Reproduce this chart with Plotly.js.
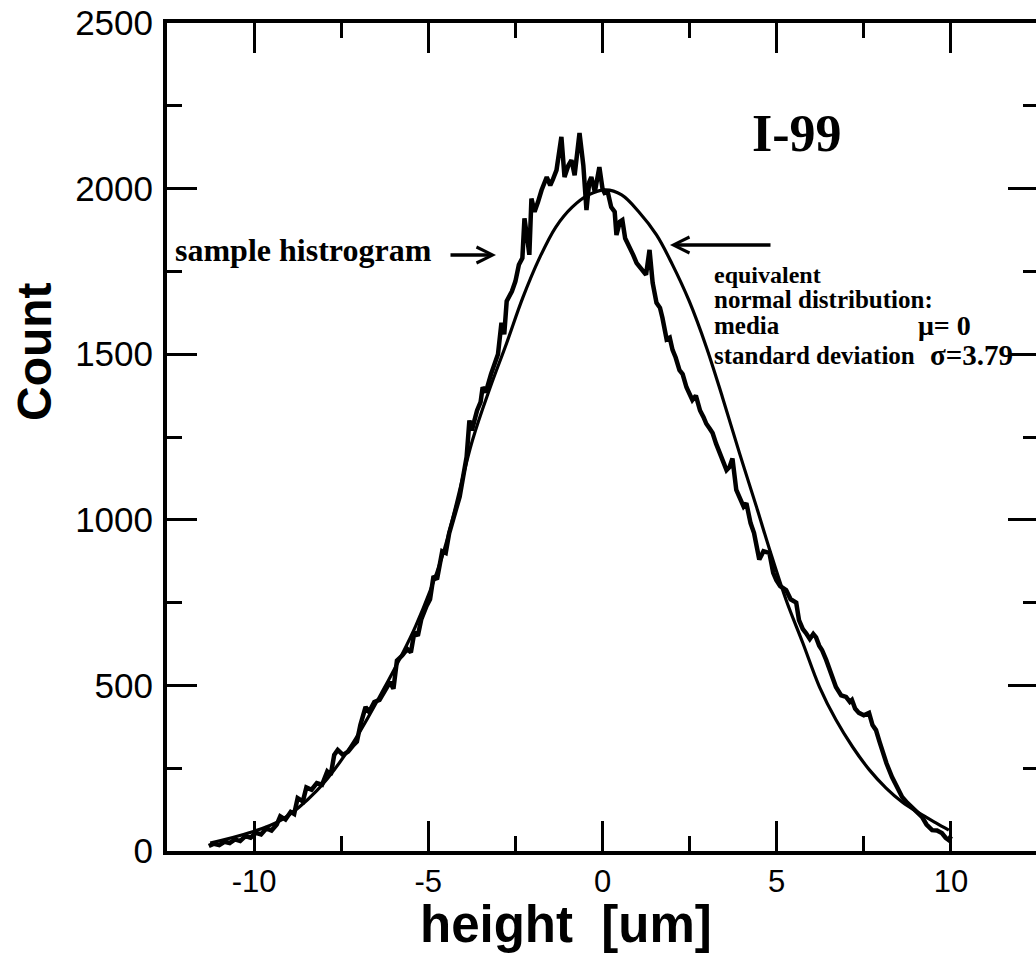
<!DOCTYPE html>
<html>
<head>
<meta charset="utf-8">
<script src="https://cdn.plot.ly/plotly-3.0.1.min.js"></script>
<style>
html, body { margin: 0; padding: 0; overflow: hidden; background: #fff; }
#chart { width: 1040px; height: 957px; }
</style>
</head>
<body>
<div id="chart"></div>
<script>
// Sample histogram (height in um vs count)
const histX = [-11.3,-11.15,-11.0,-10.85,-10.7,-10.55,-10.4,-10.25,-10.1,-9.95,-9.8,-9.65,-9.5,-9.35,-9.25,-9.1,-8.95,-8.85,-8.75,-8.6,-8.5,-8.35,-8.2,-8.05,-7.9,-7.8,-7.7,-7.6,-7.45,-7.3,-7.15,-7.05,-6.95,-6.8,-6.7,-6.55,-6.4,-6.25,-6.1,-6.0,-5.9,-5.75,-5.6,-5.5,-5.4,-5.3,-5.2,-5.05,-4.95,-4.85,-4.75,-4.6,-4.5,-4.4,-4.3,-4.2,-4.1,-4.0,-3.9,-3.82,-3.75,-3.6,-3.5,-3.44,-3.35,-3.2,-3.1,-3.0,-2.9,-2.82,-2.75,-2.6,-2.5,-2.4,-2.3,-2.24,-2.16,-2.1,-2.04,-1.95,-1.85,-1.75,-1.6,-1.5,-1.43,-1.32,-1.18,-1.09,-0.98,-0.89,-0.8,-0.72,-0.66,-0.55,-0.46,-0.38,-0.32,-0.22,-0.15,-0.09,0.0,0.06,0.15,0.25,0.35,0.4,0.5,0.57,0.65,0.78,0.88,0.98,1.08,1.15,1.25,1.35,1.44,1.55,1.65,1.72,1.84,1.93,2.01,2.1,2.21,2.3,2.41,2.5,2.58,2.68,2.8,2.9,2.98,3.08,3.16,3.26,3.36,3.46,3.56,3.65,3.73,3.84,3.95,4.05,4.13,4.25,4.35,4.5,4.62,4.79,4.9,4.99,5.1,5.27,5.4,5.56,5.64,5.75,5.84,5.95,6.05,6.13,6.22,6.3,6.42,6.55,6.7,6.85,6.99,7.1,7.16,7.25,7.36,7.5,7.65,7.75,7.85,7.95,8.02,8.15,8.31,8.45,8.6,8.75,8.88,9.0,9.17,9.3,9.46,9.6,9.74,9.85,9.94,10.0];
const histY = [15,22,18,28,24,35,30,45,40,55,50,68,62,80,105,95,118,112,160,150,192,185,205,200,240,230,290,305,290,300,320,330,380,435,420,450,456,480,510,490,575,590,610,600,660,650,700,740,760,830,820,905,900,960,1000,1040,1070,1130,1190,1300,1270,1330,1355,1400,1385,1440,1470,1500,1595,1560,1660,1690,1720,1770,1790,1910,1850,1800,1970,1930,1960,1995,2035,2010,2026,2056,2156,2035,2070,2086,2040,2100,2168,2070,1935,2020,2035,1990,2030,2065,2000,1987,1990,1944,1930,1860,1900,1905,1850,1825,1800,1775,1760,1750,1740,1815,1715,1655,1640,1610,1545,1550,1513,1490,1452,1440,1400,1380,1362,1375,1330,1310,1290,1275,1262,1230,1200,1180,1150,1160,1185,1090,1060,1040,1050,990,960,880,905,900,840,818,800,788,760,750,697,670,658,640,655,645,620,607,577,540,495,470,465,450,456,430,417,410,417,380,365,330,305,265,223,190,163,145,133,118,103,80,63,62,54,40,33,45];

// Equivalent normal distribution curve
const normX = [-11.26,-10.14,-9.2,-8.2,-7.25,-6.3,-5.36,-4.6,-3.73,-3.24,-2.75,-2.29,-1.81,-1.34,-0.87,-0.4,0.09,0.55,1.04,1.55,2.0,2.49,2.98,3.44,3.93,4.42,4.8,5.27,5.75,6.23,6.7,7.18,7.66,8.14,8.6,9.08,9.57,9.94];
const normY = [24,55,95,182,312,485,680,890,1241,1395,1534,1670,1790,1884,1944,1981,1996,1981,1930,1860,1772,1660,1522,1371,1202,1039,909,758,628,495,396,314,245,190,148,115,85,63];

// Axis ticks
const xTickVals = [-10,-5,0,5,10];
const xTickText = ['-10','-5','0','5','10'];
const yTickVals = [0,500,1000,1500,2000,2500];
const yTickText = ['0','500','1000','1500','2000','2500'];

const traces = [
  {x: histX, y: histY, type: 'scatter', mode: 'lines', line: {color: '#000', width: 4.5}, hoverinfo: 'skip'},
  {x: normX, y: normY, type: 'scatter', mode: 'lines', line: {color: '#000', width: 3.2, shape: 'spline', smoothing: 1}, hoverinfo: 'skip'}
];

const serif = 'Liberation Serif, Times New Roman, serif';
const sans = 'Liberation Sans, Arial, sans-serif';
const W = 871, H = 828;
function px(x){ return (x - 167) / W; }
function py(y){ return (851 - y) / H; }

function label(text, x, y, size, anchor){
  return {text: '<b>' + text + '</b>', xref: 'paper', yref: 'paper', x: px(x), y: py(y),
          xanchor: anchor, yanchor: 'middle', showarrow: false, borderpad: 0,
          font: {family: serif, size: size, color: '#000'}};
}

const ann = [
  label('I-99', 797, 133, 52, 'center'),
  label('sample histrogram', 174, 250, 32, 'left'),
  {text: '', xref: 'paper', yref: 'paper', x: px(496), y: py(255), ax: -47, ay: 0, showarrow: true, arrowhead: 5, arrowsize: 0.9, arrowwidth: 3.5, arrowcolor: '#000'},
  {text: '', xref: 'paper', yref: 'paper', x: px(670), y: py(245), ax: 102, ay: 0, showarrow: true, arrowhead: 5, arrowsize: 0.9, arrowwidth: 3.5, arrowcolor: '#000'},
  label('equivalent', 713, 275, 24, 'left'),
  label('normal distribution:', 713, 299, 25, 'left'),
  label('media', 713, 326, 25, 'left'),
  label('\u03bc= 0', 917, 326, 28, 'left'),
  label('standard deviation', 713, 355, 25, 'left'),
  label('\u03c3=3.79', 929, 355, 29, 'left'),
  {text: '<b>Count</b>', xref: 'paper', yref: 'paper', x: px(34), y: py(352), xanchor: 'center', yanchor: 'middle', textangle: -90, showarrow: false, borderpad: 0, font: {family: sans, size: 48, color: '#000'}},
  {text: '<b>height  [um]</b>', xref: 'paper', yref: 'paper', x: px(566), y: py(924), xanchor: 'center', yanchor: 'middle', showarrow: false, borderpad: 0, font: {family: sans, size: 51, color: '#000'}}
];

const layout = {
  width: 1040, height: 957,
  margin: {l: 167, r: 2, t: 23, b: 106, pad: 0},
  paper_bgcolor: '#fff', plot_bgcolor: '#fff',
  showlegend: false,
  xaxis: {
    range: [-12.5, 12.5], tickmode: 'array', tickvals: xTickVals, ticktext: xTickText,
    ticks: 'inside', ticklen: 30, tickwidth: 3, tickcolor: '#000',
    minor: {dtick: 2.5, tick0: 0, ticks: 'inside', ticklen: 15, tickwidth: 3, tickcolor: '#000', showgrid: false},
    showline: true, linewidth: 4, linecolor: '#000', mirror: 'ticks',
    showgrid: false, zeroline: false,
    tickfont: {family: sans, size: 31, color: '#000'}, ticklabelstandoff: 0
  },
  yaxis: {
    range: [0, 2500], tickmode: 'array', tickvals: yTickVals, ticktext: yTickText,
    ticks: 'inside', ticklen: 30, tickwidth: 3, tickcolor: '#000',
    minor: {dtick: 250, tick0: 0, ticks: 'inside', ticklen: 15, tickwidth: 3, tickcolor: '#000', showgrid: false},
    showline: true, linewidth: 4, linecolor: '#000', mirror: 'ticks',
    showgrid: false, zeroline: false,
    tickfont: {family: sans, size: 35, color: '#000'}, ticklabelstandoff: 3
  },
  annotations: ann
};

Plotly.newPlot('chart', traces, layout, {staticPlot: true, displayModeBar: false});
</script>
</body>
</html>
